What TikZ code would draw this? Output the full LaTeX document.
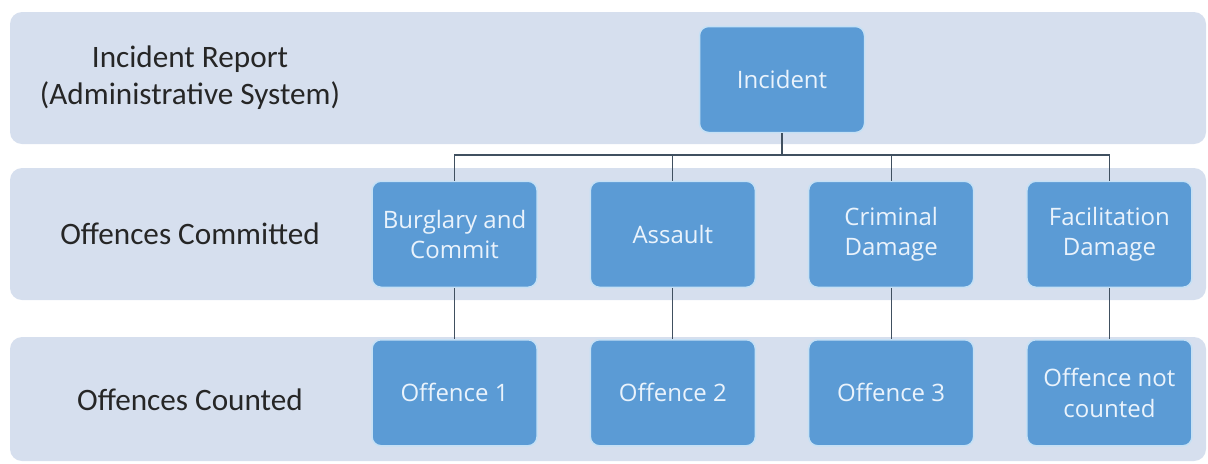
\documentclass[tikz,border=0pt]{standalone}
\usepackage{fontspec}
\setmainfont{Carlito}
\newfontfamily\boxfont{Open Sans}
\usetikzlibrary{matrix,calc}

\definecolor{bandfill}{RGB}{214,223,238}
\definecolor{boxfill}{RGB}{91,155,213}
\definecolor{boxline}{RGB}{197,224,245}
\definecolor{wirecol}{RGB}{64,80,96}
\definecolor{tiertext}{RGB}{38,38,38}
\definecolor{boxtext}{RGB}{234,243,252}

\begin{document}
\begin{tikzpicture}[x=0.5pt, y=-0.5pt, auto, >=latex]
    \tikzstyle{box}=[rectangle, rounded corners=4.5pt, fill=boxfill, draw=boxline, line width=0.75pt, minimum width=82.5pt, minimum height=53pt, inner sep=2pt, align=center, text=boxtext, font=\boxfont\fontsize{12}{15.2}\selectfont]
    \tikzstyle{band}=[fill=bandfill, rounded corners=6pt]
    \tikzstyle{tier}=[align=center, text=tiertext, font=\fontsize{15.6}{18.5}\selectfont]
    \tikzstyle{wire}=[draw=wirecol, line width=0.6pt]
    \tikzstyle{every matrix}=[ampersand replacement=\&, column sep=25.9pt, row sep=25.5pt, inner sep=0pt]

    \useasboundingbox (0,0) rectangle (1208,463);
    % the three levels
    \fill[band] (10,12) rectangle (1206,144);
    \fill[band] (10,168) rectangle (1206,300);
    \fill[band] (10,337) rectangle (1206,461);

    \node[tier] (reportlbl) at (190,78) {Incident Report\\(Administrative System)};
    \node[tier] (committedlbl) at (190,234) {Offences Committed};
    \node[tier] (countedlbl) at (190,400) {Offences Counted};

    \node[box] (incident) at (782,79.5) {Incident};
    \matrix (grid) at (782,313.5)
    {
      \node[box] (burglary) {Burglary and\\Commit}; \& \node[box] (assault) {Assault}; \& \node[box] (damage) {Criminal\\Damage}; \& \node[box] (facilitation) {Facilitation\\Damage};\\
      \node[box] (offence1) {Offence 1}; \& \node[box] (offence2) {Offence 2}; \& \node[box] (offence3) {Offence 3}; \& \node[box] (notcounted) {Offence not\\counted};\\
    };

    \coordinate (bus) at (782,155);
    \draw[wire] (incident) -- (bus);
    \draw[wire] (burglary.north) |- (bus) -| (facilitation.north);
    \draw[wire] (assault.north) -- (assault.north |- bus);
    \draw[wire] (damage.north) -- (damage.north |- bus);
    \draw[wire] (burglary) -- (offence1);
    \draw[wire] (assault) -- (offence2);
    \draw[wire] (damage) -- (offence3);
    \draw[wire] (facilitation) -- (notcounted);
\end{tikzpicture}
\end{document}
